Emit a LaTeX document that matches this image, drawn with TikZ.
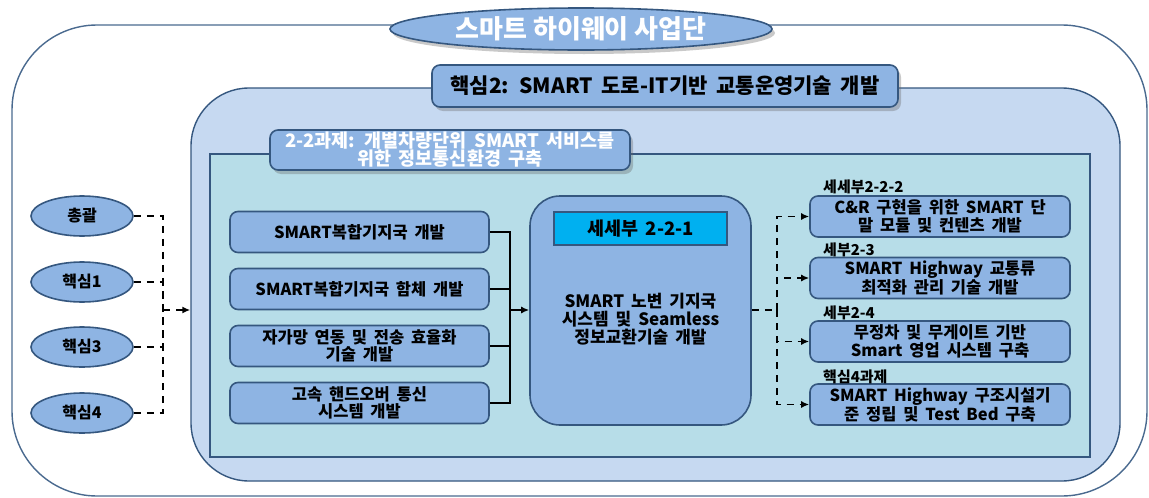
\documentclass[tikz,border=0pt]{standalone}
\usepackage{fontspec}
\setmainfont{Noto Sans CJK KR}[WordSpace=1.8]
\newfontfamily\titlefont{Noto Sans CJK KR}
\usetikzlibrary{shapes.geometric,shadows,arrows.meta}
\definecolor{edge}{HTML}{35577F}
\definecolor{outeredge}{HTML}{4A6A8F}
\definecolor{boxblue}{HTML}{8EB4E3}
\definecolor{lightframe}{HTML}{C6D9F1}
\definecolor{tealframe}{HTML}{B7DDE8}
\definecolor{cyanbox}{HTML}{00B0F0}
\tikzset{
  shadowed/.style={drop shadow={opacity=0.35,shadow xshift=3pt,shadow yshift=-4pt,fill=black!60}},
  outerframe/.style={draw=outeredge,line width=1.4pt,fill=white,rounded corners=85pt,inner sep=0pt},
  midframe/.style={draw=edge,line width=1.4pt,fill=lightframe,rounded corners=58pt,inner sep=0pt},
  tealbox/.style={draw=edge,line width=1.4pt,fill=tealframe,inner sep=0pt},
  bluebox/.style={draw=edge,line width=1.6pt,fill=boxblue,rounded corners=8pt,inner sep=0pt,align=center,
    font=\fontsize{16.5}{17.5}\selectfont\bfseries},
  ellnode/.style={ellipse,draw=edge,line width=1.6pt,fill=boxblue,inner sep=0pt,
    minimum width=102pt,minimum height=40pt,font=\fontsize{16}{18}\selectfont\bfseries},
  tag/.style={anchor=west,inner sep=0pt,font=\fontsize{15}{17}\selectfont\bfseries},
  solidconn/.style={draw=black,line width=1.8pt},
  dashconn/.style={draw=black,line width=1.8pt,dash pattern=on 7pt off 6pt},
  tip/.style={-{Latex[length=8pt,width=7pt]}}
}
\begin{document}
\begin{tikzpicture}[x=1pt,y=-1pt]
\useasboundingbox (0,0) rectangle (1149,498);
% frames
\node[outerframe,minimum width=1135pt,minimum height=471pt] (outer) at (579.5,260.5) {};
\node[midframe,minimum width=929pt,minimum height=393pt] (mid) at (655.5,284.5) {};
\node[tealbox,minimum width=880pt,minimum height=303pt] (teal) at (650,305.5) {};
% headers
\node[ellipse,draw=edge,line width=1.6pt,fill=boxblue,shadowed,inner sep=0pt,
  minimum width=382pt,minimum height=42pt,text=white,font=\titlefont\fontsize{26}{30}\selectfont\bfseries]
  (title) at (581,29) {스마트 하이웨이 사업단};
\node[bluebox,shadowed,minimum width=466pt,minimum height=42pt,font=\fontsize{21}{24}\selectfont\bfseries]
  (core2) at (665,86) {핵심2: SMART 도로-IT기반 교통운영기술 개발};
\node[bluebox,shadowed,minimum width=360pt,minimum height=40pt,text=white,
  font=\fontsize{18.5}{18}\selectfont\bfseries] (task) at (450,150)
  {2-2과제: 개별차량단위 SMART 서비스를\\위한 정보통신환경 구축};
% left ellipses
\node[ellnode] (e1) at (82,216) {총괄};
\node[ellnode] (e2) at (82,282) {핵심1};
\node[ellnode] (e3) at (82,347) {핵심3};
\node[ellnode] (e4) at (82,413) {핵심4};
% left boxes
\node[bluebox,minimum width=259pt,minimum height=41pt] (b1) at (359.5,232) {SMART복합기지국 개발};
\node[bluebox,minimum width=259pt,minimum height=41pt] (b2) at (359.5,289) {SMART복합기지국 함체 개발};
\node[bluebox,minimum width=259pt,minimum height=41pt] (b3) at (359.5,346) {자가망 연동 및 전송 효율화\\기술 개발};
\node[bluebox,minimum width=259pt,minimum height=41pt] (b4) at (359.5,403) {고속 핸드오버 통신\\시스템 개발};
% center box
\node[bluebox,rounded corners=30pt,minimum width=221pt,minimum height=229pt] (cb) at (640.5,310.5) {};
\node[draw=edge,line width=1.6pt,fill=cyanbox,minimum width=173pt,minimum height=33pt,inner sep=0pt,
  font=\fontsize{18.5}{20}\selectfont\bfseries] (sub) at (640.5,228.5) {세세부 2-2-1};
\node[align=center,inner sep=0pt,font=\fontsize{17}{18}\selectfont\bfseries] (cbt) at (640.5,319)
  {SMART 노변 기지국\\시스템 및 Seamless\\정보교환기술 개발};
% right boxes
\node[bluebox,minimum width=260pt,minimum height=41pt] (r1) at (940,216.5) {C\&R 구현을 위한 SMART 단\\말 모듈 및 컨텐츠 개발};
\node[bluebox,minimum width=260pt,minimum height=41pt] (r2) at (940,278) {SMART Highway 교통류\\최적화 관리 기술 개발};
\node[bluebox,minimum width=260pt,minimum height=41pt] (r3) at (940,341.5) {무정차 및 무게이트 기반\\Smart 영업 시스템 구축};
\node[bluebox,minimum width=260pt,minimum height=41pt] (r4) at (940,404.5) {SMART Highway 구조시설기\\준 정립 및 Test Bed 구축};
\node[tag] (t1) at (823,187) {세세부2-2-2};
\node[tag] (t2) at (823,250) {세부2-3};
\node[tag] (t3) at (823,313) {세부2-4};
\node[tag] (t4) at (823,377) {핵심4과제};
% connectors
\coordinate (jl) at (163,310);
\coordinate (jm) at (510,310);
\coordinate (jr) at (777,310);
\foreach \e in {e1,e2,e3,e4} \draw[dashconn] (\e.east) -| (jl);
\draw[dashconn,tip] (jl) -- (mid.west |- jl);
\foreach \b in {b1,b2,b3,b4} \draw[solidconn] (\b.east) -| (jm);
\draw[solidconn,tip] (jm) -- (cb.west |- jm);
\draw[dashconn] (cb.east |- jr) -- (jr);
\foreach \r in {r1,r2,r3,r4} \draw[dashconn,tip] (jr) |- (\r.west);
\end{tikzpicture}
\end{document}
